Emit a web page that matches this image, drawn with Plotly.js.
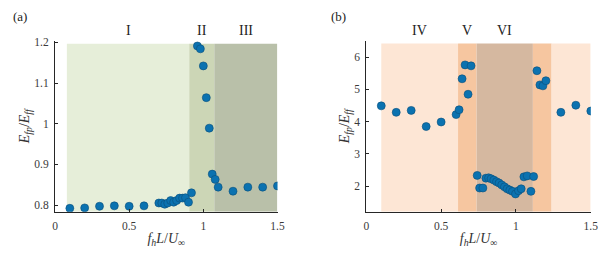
<!DOCTYPE html>
<html>
<head>
<meta charset="utf-8">
<script src="https://cdn.plot.ly/plotly-3.0.1.min.js"></script>
<style>html,body{margin:0;padding:0;background:#fff;}#chart{width:610px;height:260px;} text{font-variant-ligatures:none;}</style>
</head>
<body>
<div id="chart"></div>
<script>
// ---- Panel (a) data ----
const aX = [0.1,0.2,0.3,0.4,0.5,0.6,0.70,0.72,0.74,0.76,0.78,0.80,0.82,0.84,0.86,0.88,0.90,0.92,0.96,0.98,1.00,1.02,1.04,1.06,1.08,1.10,1.20,1.30,1.40,1.50];
const aY = [0.792,0.793,0.797,0.798,0.797,0.798,0.805,0.805,0.802,0.805,0.811,0.807,0.811,0.817,0.817,0.818,0.807,0.830,1.191,1.184,1.142,1.064,0.989,0.876,0.863,0.844,0.834,0.844,0.844,0.847];
const aRegionNames = ["I","II","III"];
const aRegionStart = [0.08,0.905,1.074];
const aRegionEnd   = [0.905,1.074,1.498];
const aRegionColors = ["#e6eed9","#ccd6b6","#b9c0a9"];

// ---- Panel (b) data ----
const bX = [0.1,0.2,0.3,0.4,0.5,0.6,0.62,0.64,0.66,0.68,0.70,
            0.741,0.757,0.779,0.799,0.817,0.834,0.852,0.870,0.887,0.905,0.923,0.941,0.959,0.977,0.997,1.017,1.035,1.053,1.075,1.10,1.118,
            1.14,1.16,1.18,1.20,1.3,1.4,1.5];
const bY = [4.49,4.29,4.35,3.85,3.99,4.22,4.37,5.33,5.76,4.85,5.73,
            2.335,1.944,1.944,2.25,2.26,2.23,2.19,2.14,2.10,2.04,1.98,1.92,1.88,1.84,1.76,1.86,1.92,2.29,2.32,1.84,2.30,
            5.58,5.14,5.11,5.27,4.29,4.51,4.33];
const bRegionNames = ["IV","V","VI","",""];
const bRegionStart = [0.1,0.613,0.737,1.113,1.238];
const bRegionEnd   = [0.613,0.737,1.113,1.238,1.498];
const bRegionColors = ["#fde6d5","#f6c6a0","#d5b8a0","#f6c6a0","#fde6d5"];

const xTickVals = [0,0.5,1,1.5];
const xTickText = ["0","0.5","1","1.5"];
const aYTickVals = [0.8,0.9,1,1.1,1.2];
const aYTickText = ["0.8","0.9","1","1.1","1.2"];
const bYTickVals = [2,3,4,5,6];
const bYTickText = ["2","3","4","5","6"];

const aYRange = [0.7836,1.204], aShadeTop = 1.1966;
const bYRange = [1.21,6.51], bShadeTop = 6.42;

const axisColor = "#262626";
const serif = "Liberation Serif, DejaVu Serif, serif";
const markerStyle = {size:8, color:"#0b72b0", line:{color:"#0a4f7a", width:0.6}};

const traces = [
  {x:aX, y:aY, xaxis:"x", yaxis:"y", type:"scatter", mode:"markers", marker:markerStyle, hoverinfo:"x+y"},
  {x:bX, y:bY, xaxis:"x2", yaxis:"y2", type:"scatter", mode:"markers", marker:markerStyle, hoverinfo:"x+y"}
];

const labelY = 1 - 30.5/260;
const shapes = [];
const annotations = [];
aRegionStart.forEach((s,i)=>{
  shapes.push({type:"rect", xref:"x", yref:"y", x0:s, x1:aRegionEnd[i], y0:aYRange[0], y1:aShadeTop,
    fillcolor:aRegionColors[i], line:{width:0}, layer:"below"});
  if (aRegionNames[i]) annotations.push({xref:"x", yref:"paper", x:(s+aRegionEnd[i])/2, y:labelY,
    xanchor:"center", yanchor:"middle",
    text:aRegionNames[i], showarrow:false, font:{family:serif, size:14, color:"#222"}});
});
bRegionStart.forEach((s,i)=>{
  shapes.push({type:"rect", xref:"x2", yref:"y2", x0:s, x1:bRegionEnd[i], y0:bYRange[0], y1:bShadeTop,
    fillcolor:bRegionColors[i], line:{width:0}, layer:"below"});
  if (bRegionNames[i]) annotations.push({xref:"x2", yref:"paper", x:(s+bRegionEnd[i])/2, y:labelY,
    xanchor:"center", yanchor:"middle",
    text:bRegionNames[i], showarrow:false, font:{family:serif, size:14, color:"#222"}});
});
annotations.push({xref:"paper", yref:"paper", x:20/610, y:1-17/260, xanchor:"center", yanchor:"middle",
  text:"(a)", showarrow:false, font:{family:serif, size:13, color:"#222"}});
annotations.push({xref:"paper", yref:"paper", x:338/610, y:1-17/260, xanchor:"center", yanchor:"middle",
  text:"(b)", showarrow:false, font:{family:serif, size:13, color:"#222"}});

const xTitle = "<i>f</i><sub><i>h</i></sub><i>L</i>/<i>U</i><sub>∞</sub>";
const yTitle = "<i>E</i><sub><i>fp</i></sub>/<i>E</i><sub><i>f\u200Cf</i></sub>";

function xAxis(domain, anchor){
  return {domain:domain, anchor:anchor, range:[0,1.5], tickvals:xTickVals, ticktext:xTickText,
    ticks:"inside", ticklen:3, tickcolor:axisColor, showline:true, linecolor:axisColor, linewidth:1,
    showgrid:false, zeroline:false, tickfont:{family:serif, size:11.5, color:"#3a3a3a"},
    ticklabelstandoff:3,
    title:{text:xTitle, font:{family:serif, size:14, color:"#333"}, standoff:2}};
}
function yAxis(domain, anchor, range, tv, tt){
  return {domain:domain, anchor:anchor, range:range, tickvals:tv, ticktext:tt,
    ticks:"inside", ticklen:3, tickcolor:axisColor, showline:true, linecolor:axisColor, linewidth:1,
    showgrid:false, zeroline:false, tickfont:{family:serif, size:11.5, color:"#3a3a3a"},
    ticklabelstandoff:3,
    title:{text:yTitle, font:{family:serif, size:14, color:"#333"}, standoff:1}};
}

const yDom = [1-211.7/260, 1-40.7/260];
const layout = {
  width:610, height:260, margin:{l:0,r:0,t:0,b:0}, showlegend:false,
  paper_bgcolor:"#fff", plot_bgcolor:"rgba(0,0,0,0)",
  xaxis: xAxis([55/610, 277.5/610], "y"),
  yaxis: yAxis(yDom, "x", aYRange, aYTickVals, aYTickText),
  xaxis2: xAxis([366.3/610, 590.8/610], "y2"),
  yaxis2: yAxis(yDom, "x2", bYRange, bYTickVals, bYTickText),
  shapes:shapes, annotations:annotations
};
Plotly.newPlot("chart", traces, layout, {displayModeBar:false, staticPlot:true});
</script>
</body>
</html>
